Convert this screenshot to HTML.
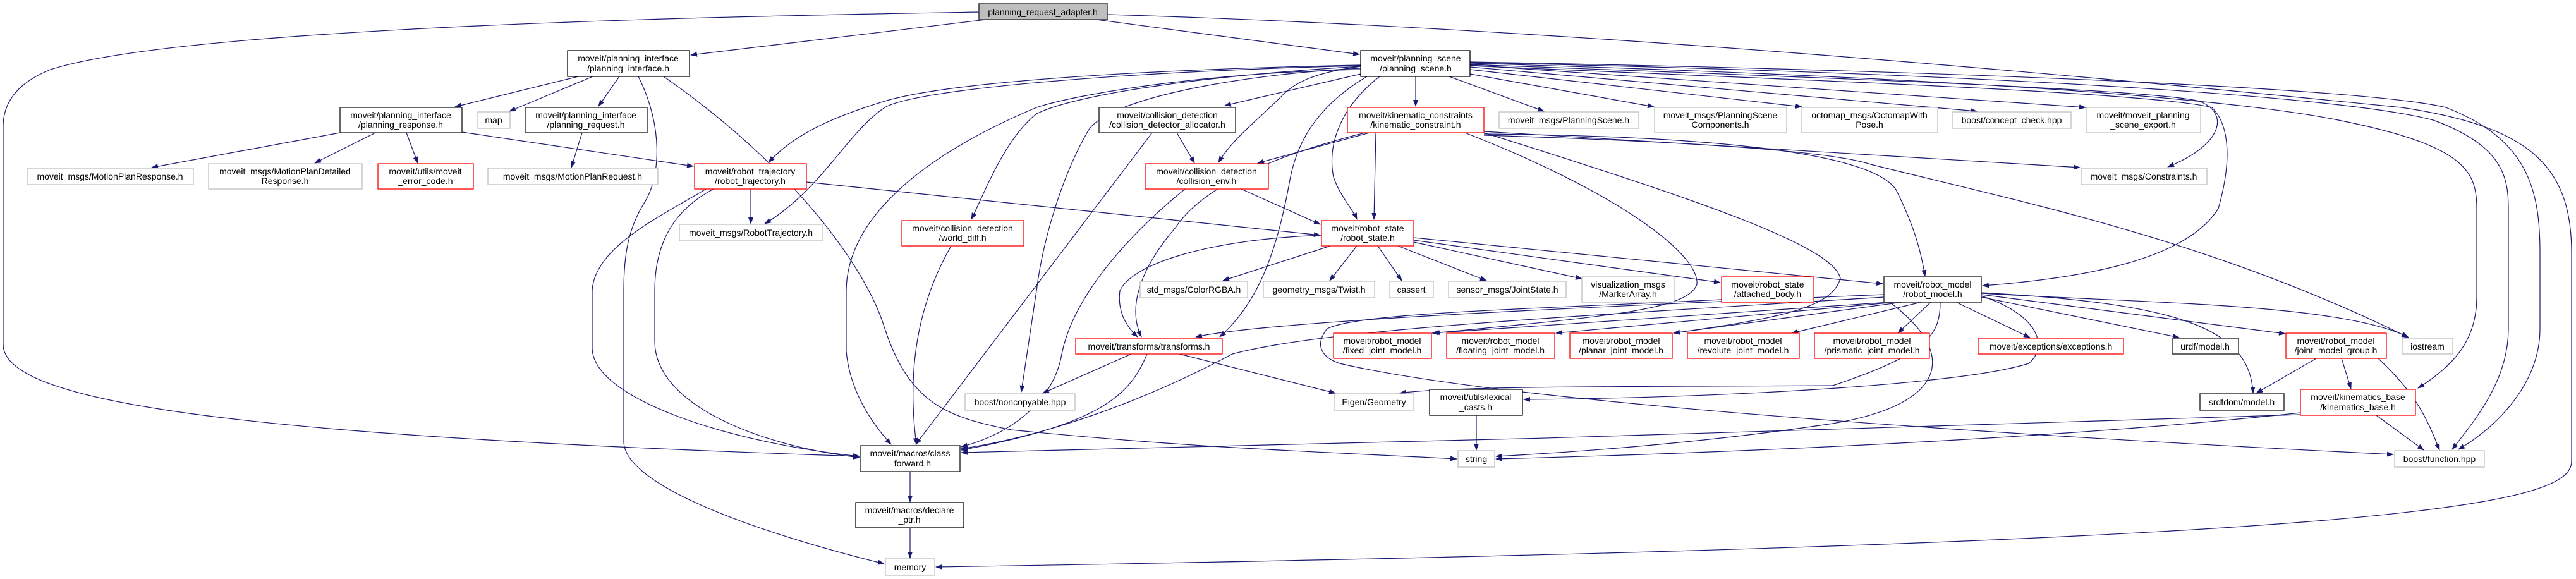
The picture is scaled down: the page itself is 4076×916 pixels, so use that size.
<!DOCTYPE html>
<html><head><meta charset="utf-8"><style>
html,body{margin:0;padding:0;background:#fff;}
svg{display:block;}
text{font-family:"Liberation Sans",sans-serif;font-size:14px;fill:#000;text-anchor:middle;}
.e{fill:none;stroke:#191970;stroke-width:1.2;marker-end:url(#a);}
.k{fill:#fff;stroke:#000;stroke-width:1.3;}
.d{fill:#fff;stroke:#404040;stroke-width:1.6;}
.g{fill:#fff;stroke:#bfbfbf;stroke-width:1.3;}
.r{fill:#fff;stroke:#ff0000;stroke-width:1.3;}
</style></head><body>
<svg width="4076" height="916" viewBox="0 0 4076 916" xmlns="http://www.w3.org/2000/svg">
<defs><marker id="a" markerWidth="11" markerHeight="8" refX="10" refY="4" orient="auto" markerUnits="userSpaceOnUse"><path d="M0,0 L11,4 L0,8 z" fill="#191970"/></marker></defs>

<!-- edges -->
<path class="e" d="M1560,31 L1093,87"/>
<path class="e" d="M1549,19 C1200,25 300,40 80,110 C30,130 5,160 5,200 L5,545 C5,640 400,690 1360,722"/>
<path class="e" d="M1735,31 L2151,86"/>
<path class="e" d="M1752,23 C2500,45 3300,120 3800,170 C4000,200 4069,260 4069,400 L4069,730 C4069,800 3800,860 1481,897"/>

<path class="e" d="M915,121 L720,169"/>
<path class="e" d="M938,121 L806,176"/>
<path class="e" d="M980,121 L947,168"/>
<path class="e" d="M1010,121 C1050,200 1045,280 1020,320 C995,360 987,400 987,460 L987,700 C990,760 1150,830 1399,892"/>
<path class="e" d="M1050,121 C1250,260 1370,420 1400,520 C1440,640 1500,660 1600,680 C1900,710 2100,715 2305,726"/>
<path class="e" d="M1117,299 C1050,340 940,390 937,460 L937,550 C937,630 1150,700 1360,722"/>
<path class="e" d="M1129,299 C1070,330 1036,380 1036,460 L1036,540 C1036,640 1200,705 1360,724"/>

<path class="e" d="M1188,299 L1188,354"/>
<path class="e" d="M1276,288 L2089,372"/>
<path class="e" d="M731,209 L1097,263"/>
<path class="e" d="M538,210 L240,265"/>
<path class="e" d="M594,210 L498,258"/>
<path class="e" d="M643,210 L661,258"/>
<path class="e" d="M921,210 L904,265"/>

<path class="e" d="M2240,121 L2240,168"/>
<path class="e" d="M2293,121 L2443,176"/>
<path class="e" d="M2326,117 L2617,169"/>
<path class="e" d="M2326,110 L2851,169"/>
<path class="e" d="M2326,106 L3128,176"/>
<path class="e" d="M2326,103 L3300,170"/>
<path class="e" d="M2326,102 C2800,120 3400,140 3480,160 C3530,180 3515,230 3430,264"/>
<path class="e" d="M2326,104 C2800,125 3400,145 3500,170 C3530,200 3530,260 3510,330 C3460,410 3300,440 3137,452"/>
<path class="e" d="M2326,100 C3000,120 3500,150 3700,190 C3900,230 3919,270 3919,330 L3919,470 C3919,540 3880,580 3826,614"/>
<path class="e" d="M2326,99 C3100,115 3700,150 3850,190 C3960,230 3969,280 3969,330 L3969,520 C3969,600 3920,660 3880,711"/>
<path class="e" d="M2326,98 C3100,112 3750,140 3870,170 C4000,220 4019,300 4019,400 L4019,520 C4019,600 3960,670 3890,711"/>

<path class="e" d="M2153,117 L1938,167"/>
<path class="e" d="M2153,105 C2080,115 2050,130 2030,150 C1990,190 1950,220 1928,257"/>
<path class="e" d="M2153,103 C1800,110 1500,130 1400,160 C1300,190 1250,220 1216,257"/>
<path class="e" d="M2153,104 C1800,112 1450,140 1400,170 C1340,210 1300,300 1210,354"/>
<path class="e" d="M2153,105 C1900,120 1700,150 1640,180 C1590,220 1560,300 1537,347"/>
<path class="e" d="M2153,108 C2000,115 1750,150 1720,210 C1680,280 1650,380 1640,460 L1616,620"/>
<path class="e" d="M2153,110 C1900,115 1700,150 1640,170 C1450,250 1340,350 1339,460 L1339,556 C1345,620 1380,670 1410,703"/>
<path class="e" d="M2183,121 C2120,170 2100,230 2110,280 C2120,310 2140,330 2147,347"/>
<path class="e" d="M2163,121 C2080,170 2050,230 2040,290 C2020,400 1990,480 1930,533"/>

<path class="e" d="M2091,372 C1900,380 1790,420 1772,460 C1768,490 1780,515 1800,533"/>
<path class="e" d="M2160,210 C2000,250 1900,300 1860,360 C1800,430 1785,490 1806,533"/>

<path class="e" d="M1875,299 C1800,360 1700,460 1680,560 C1670,620 1620,680 1521,707"/>
<path class="e" d="M2981,470 C2500,500 2100,520 1950,560 C1800,640 1650,690 1521,710"/>
<path class="e" d="M3640,656 C3000,680 2200,700 1521,716"/>
<path class="e" d="M1815,560 C1790,620 1750,670 1521,712"/>
<path class="e" d="M1505,389 C1470,450 1430,550 1450,703"/>
<path class="e" d="M1823,210 L1449,703"/>
<path class="e" d="M1862,210 L1890,258"/>
<path class="e" d="M1964,299 L2089,355"/>

<path class="e" d="M3640,653 C3300,690 2800,715 2367,726"/>
<path class="e" d="M2990,478 C3100,560 3080,640 2900,670 C2700,700 2500,715 2367,722"/>

<path class="e" d="M2990,478 L2266,527"/>
<path class="e" d="M3000,478 L2462,527"/>
<path class="e" d="M3010,478 L2648,527"/>
<path class="e" d="M3040,478 L2835,527"/>
<path class="e" d="M3055,478 L3003,527"/>
<path class="e" d="M3095,478 L3212,534"/>
<path class="e" d="M3135,470 L3448,534"/>
<path class="e" d="M3135,466 L3616,528"/>
<path class="e" d="M3135,464 C3400,480 3700,480 3810,533"/>
<path class="e" d="M3135,463 C3450,480 3560,520 3565,622"/>
<path class="e" d="M3135,468 C3230,500 3240,550 3210,575 C3100,610 2700,630 2411,632"/>
<path class="e" d="M3070,478 C3070,530 3050,560 2900,610 C2600,612 2300,610 2215,622"/>
<path class="e" d="M2981,466 C2400,490 2000,510 1892,533"/>
<path class="e" d="M2724,474 C2400,490 2150,495 2100,520 C2080,545 2090,565 2120,575 C2400,640 3200,690 3787,719"/>

<path class="e" d="M2105,389 L1935,444"/>
<path class="e" d="M2147,389 L2104,444"/>
<path class="e" d="M2180,389 L2218,444"/>
<path class="e" d="M2212,389 L2352,444"/>
<path class="e" d="M2237,383 L2503,441"/>
<path class="e" d="M2237,380 L2722,447"/>
<path class="e" d="M2237,376 L2979,449"/>

<path class="e" d="M2177,210 L2174,347"/>
<path class="e" d="M2167,210 L1990,258"/>
<path class="e" d="M2318,210 C2550,300 2690,400 2685,450 C2670,490 2550,500 2268,527"/>
<path class="e" d="M2348,210 C2700,320 2900,390 2912,440 C2900,490 2800,505 2648,527"/>
<path class="e" d="M2348,212 C2700,215 2960,240 3000,300 C3030,360 3040,400 3046,437"/>
<path class="e" d="M2348,214 C2700,225 2900,240 2960,260 C3200,320 3500,380 3811,534"/>
<path class="e" d="M2348,208 C2700,230 3000,245 3291,265"/>

<path class="e" d="M3665,567 L3570,622"/>
<path class="e" d="M3705,567 L3720,615"/>
<path class="e" d="M3763,567 C3820,620 3840,660 3860,712"/>
<path class="e" d="M3760,657 L3835,712"/>
<path class="e" d="M1790,560 L1650,622"/>
<path class="e" d="M1866,560 L2113,622"/>
<path class="e" d="M2336,657 L2336,712"/>
<path class="e" d="M1440,746 L1440,794"/>
<path class="e" d="M1440,835 L1440,883"/>

<!-- nodes -->
<rect x="1549" y="6" width="203" height="25" fill="#bfbfbf" stroke="#404040" stroke-width="1.6"/><text x="1650" y="24">planning_request_adapter.h</text>
<rect class="k" x="898" y="80" width="193" height="41"/><text x="994" y="97">moveit/planning_interface</text><text x="994" y="113">/planning_interface.h</text>
<rect class="k" x="2153" y="80" width="173" height="41"/><text x="2240" y="97">moveit/planning_scene</text><text x="2240" y="113">/planning_scene.h</text>
<rect class="d" x="538" y="170" width="193" height="40"/><text x="634" y="187">moveit/planning_interface</text><text x="634" y="202">/planning_response.h</text>
<rect class="g" x="756" y="177" width="51" height="26"/><text x="781" y="195">map</text>
<rect class="d" x="831" y="170" width="193" height="40"/><text x="927" y="187">moveit/planning_interface</text><text x="927" y="202">/planning_request.h</text>
<rect class="d" x="1739" y="170" width="216" height="40"/><text x="1847" y="187">moveit/collision_detection</text><text x="1847" y="202">/collision_detector_allocator.h</text>
<rect class="r" x="2132" y="170" width="216" height="40"/><text x="2240" y="187">moveit/kinematic_constraints</text><text x="2240" y="202">/kinematic_constraint.h</text>
<rect class="g" x="2372" y="177" width="221" height="26"/><text x="2482" y="195">moveit_msgs/PlanningScene.h</text>
<rect class="g" x="2618" y="170" width="209" height="40"/><text x="2722" y="187">moveit_msgs/PlanningScene</text><text x="2722" y="202">Components.h</text>
<rect class="g" x="2851" y="170" width="215" height="40"/><text x="2958" y="187">octomap_msgs/OctomapWith</text><text x="2958" y="202">Pose.h</text>
<rect class="g" x="3090" y="177" width="187" height="26"/><text x="3183" y="195">boost/concept_check.hpp</text>
<rect class="g" x="3301" y="170" width="181" height="40"/><text x="3391" y="187">moveit/moveit_planning</text><text x="3391" y="202">_scene_export.h</text>
<rect class="g" x="43" y="266" width="263" height="26"/><text x="174" y="284">moveit_msgs/MotionPlanResponse.h</text>
<rect class="g" x="330" y="259" width="243" height="40"/><text x="451" y="276">moveit_msgs/MotionPlanDetailed</text><text x="451" y="291">Response.h</text>
<rect class="r" x="598" y="259" width="151" height="40"/><text x="673" y="276">moveit/utils/moveit</text><text x="673" y="291">_error_code.h</text>
<rect class="g" x="772" y="266" width="269" height="26"/><text x="906" y="284">moveit_msgs/MotionPlanRequest.h</text>
<rect class="r" x="1099" y="259" width="177" height="40"/><text x="1187" y="276">moveit/robot_trajectory</text><text x="1187" y="291">/robot_trajectory.h</text>
<rect class="r" x="1812" y="259" width="195" height="40"/><text x="1909" y="276">moveit/collision_detection</text><text x="1909" y="291">/collision_env.h</text>
<rect class="g" x="3293" y="266" width="199" height="26"/><text x="3392" y="284">moveit_msgs/Constraints.h</text>
<rect class="g" x="1075" y="355" width="226" height="26"/><text x="1188" y="373">moveit_msgs/RobotTrajectory.h</text>
<rect class="r" x="1427" y="349" width="193" height="40"/><text x="1523" y="366">moveit/collision_detection</text><text x="1523" y="381">/world_diff.h</text>
<rect class="r" x="2091" y="349" width="146" height="40"/><text x="2164" y="366">moveit/robot_state</text><text x="2164" y="381">/robot_state.h</text>
<rect class="g" x="1804" y="445" width="170" height="26"/><text x="1889" y="463">std_msgs/ColorRGBA.h</text>
<rect class="g" x="1999" y="445" width="176" height="26"/><text x="2087" y="463">geometry_msgs/Twist.h</text>
<rect class="g" x="2199" y="445" width="69" height="26"/><text x="2233" y="463">cassert</text>
<rect class="g" x="2292" y="445" width="186" height="26"/><text x="2385" y="463">sensor_msgs/JointState.h</text>
<rect class="g" x="2503" y="438" width="146" height="40"/><text x="2576" y="455">visualization_msgs</text><text x="2576" y="470">/MarkerArray.h</text>
<rect class="r" x="2724" y="438" width="146" height="40"/><text x="2797" y="455">moveit/robot_state</text><text x="2797" y="470">/attached_body.h</text>
<rect class="d" x="2981" y="438" width="154" height="40"/><text x="3058" y="455">moveit/robot_model</text><text x="3058" y="470">/robot_model.h</text>
<rect class="r" x="2110" y="527" width="155" height="40"/><text x="2187" y="544">moveit/robot_model</text><text x="2187" y="559">/fixed_joint_model.h</text>
<rect class="r" x="2289" y="527" width="171" height="40"/><text x="2374" y="544">moveit/robot_model</text><text x="2374" y="559">/floating_joint_model.h</text>
<rect class="r" x="2484" y="527" width="162" height="40"/><text x="2565" y="544">moveit/robot_model</text><text x="2565" y="559">/planar_joint_model.h</text>
<rect class="r" x="2670" y="527" width="177" height="40"/><text x="2758" y="544">moveit/robot_model</text><text x="2758" y="559">/revolute_joint_model.h</text>
<rect class="r" x="2871" y="527" width="182" height="40"/><text x="2962" y="544">moveit/robot_model</text><text x="2962" y="559">/prismatic_joint_model.h</text>
<rect class="r" x="1702" y="535" width="232" height="25"/><text x="1818" y="553">moveit/transforms/transforms.h</text>
<rect class="r" x="3130" y="535" width="230" height="25"/><text x="3245" y="553">moveit/exceptions/exceptions.h</text>
<rect class="d" x="3437" y="535" width="105" height="25"/><text x="3489" y="553">urdf/model.h</text>
<rect class="r" x="3617" y="527" width="159" height="40"/><text x="3696" y="544">moveit/robot_model</text><text x="3696" y="559">/joint_model_group.h</text>
<rect class="g" x="3801" y="535" width="80" height="25"/><text x="3841" y="553">iostream</text>
<rect class="g" x="1527" y="623" width="174" height="26"/><text x="1614" y="641">boost/noncopyable.hpp</text>
<rect class="g" x="2112" y="623" width="125" height="26"/><text x="2174" y="641">Eigen/Geometry</text>
<rect class="k" x="2262" y="616" width="147" height="41"/><text x="2335" y="633">moveit/utils/lexical</text><text x="2335" y="649">_casts.h</text>
<rect class="d" x="3481" y="623" width="133" height="26"/><text x="3547" y="641">srdfdom/model.h</text>
<rect class="r" x="3640" y="616" width="182" height="41"/><text x="3731" y="633">moveit/kinematics_base</text><text x="3731" y="649">/kinematics_base.h</text>
<rect class="d" x="1362" y="705" width="157" height="41"/><text x="1440" y="722">moveit/macros/class</text><text x="1440" y="738">_forward.h</text>
<rect class="g" x="2307" y="713" width="58" height="26"/><text x="2336" y="731">string</text>
<rect class="g" x="3789" y="713" width="142" height="26"/><text x="3860" y="731">boost/function.hpp</text>
<rect class="k" x="1354" y="795" width="171" height="40"/><text x="1439" y="812">moveit/macros/declare</text><text x="1439" y="827">_ptr.h</text>
<rect class="g" x="1401" y="884" width="78" height="26"/><text x="1440" y="902">memory</text>
</svg>
</body></html>
